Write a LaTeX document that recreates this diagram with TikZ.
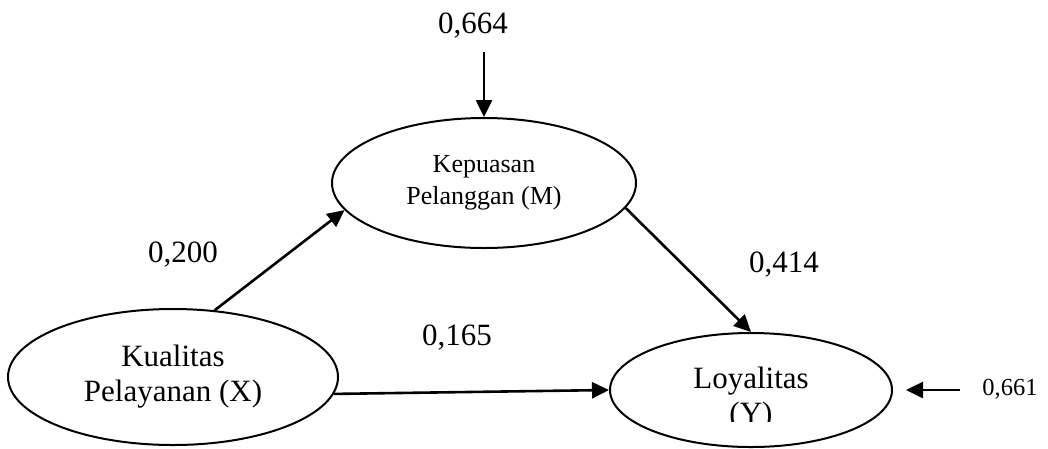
\documentclass[tikz,border=0pt]{standalone}
\usepackage{fontspec}
\setmainfont{Liberation Serif}
\usepackage{tikz}
\usetikzlibrary{arrows.meta,shapes}
\tikzstyle{latent}=[ellipse,draw,line width=2pt,inner sep=0pt,align=center]
\tikzstyle{coef}=[anchor=base,inner sep=0pt,font=\fontsize{31}{35}\selectfont]
\tikzstyle{link} = [draw,line width=2.6pt,-{Triangle[length=17pt,width=16pt]}]

\begin{document}
\begin{tikzpicture}[x=1pt,y=-1pt]
        \useasboundingbox (0,0) rectangle (1048,448);
        % variabel
        \node[latent,minimum width=330pt,minimum height=136pt,font=\fontsize{31}{35}\selectfont] (x) at (173,377) {Kualitas\\Pelayanan (X)};
        \node[latent,minimum width=304pt,minimum height=130pt,font=\fontsize{26}{32}\selectfont] (m) at (484,183) {Kepuasan\\Pelanggan (M)};
        \node[latent,minimum width=282pt,minimum height=114pt] (y) at (751,390) {};
        \node[coef] (ytxt) at (751,388) {Loyalitas};
        \begin{scope}
          \clip (700,395) rectangle (800,421);
          \node[coef] (ylbl) at (751,423) {(Y)};
        \end{scope}
        % koefisien
        \node[coef] (pm) at (473,33) {0,664};
        \node[coef] (pxm) at (183,262) {0,200};
        \node[coef] (pmy) at (784,272) {0,414};
        \node[coef] (pxy) at (457,345) {0,165};
        \node[coef,font=\fontsize{24.5}{28}\selectfont] (py) at (1010,395) {0,661};
        \coordinate (em) at (484,52);
        \coordinate (ey) at (960,390);
        \draw[link] (em) to (m.north);
        \draw[link] (x.58) to (m.191.5);
        \draw[link] (m.350.5) to (y.north);
        \draw[link] (x.354) to (y.west);
        \draw[link,shorten >=13pt] (ey) to (y.east);
      \end{tikzpicture}
\end{document}
